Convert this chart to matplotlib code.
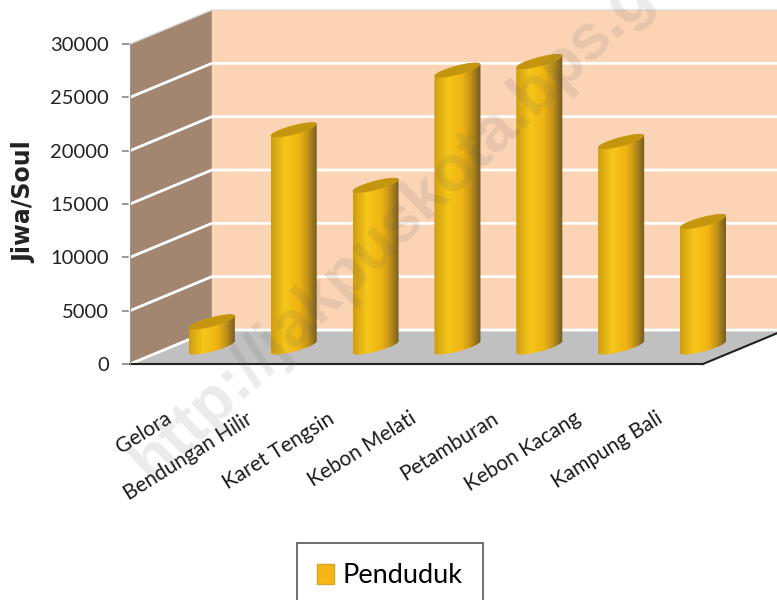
import numpy as np
import matplotlib
matplotlib.use("Agg")
import matplotlib.pyplot as plt
from matplotlib.colors import LinearSegmentedColormap
from matplotlib.patches import Patch, Polygon
from matplotlib.transforms import ScaledTranslation

categories = ["Gelora", "Bendungan Hilir", "Karet Tengsin", "Kebon Melati",
              "Petamburan", "Kebon Kacang", "Kampung Bali"]
penduduk = [2350, 20350, 15150, 25950, 26750, 19250, 11750]
y_ticks = [0, 5000, 10000, 15000, 20000, 25000, 30000]

# Oblique depth of the fake 3D box, in data units
depth_x = 1.0
depth_y = 3187
# Cylinder footprint on the floor
radius_w = 0.175
radius_d = 0.22

fig = plt.figure(figsize=(7.77, 6.0), dpi=100)
ax = fig.add_axes([130 / 777, 1 - 364 / 600, 573 / 777, 320 / 600])
plt.rcParams['font.family'] = ['Lato', 'DejaVu Sans']


def ellipse_points(cx, cy, t):
    return (cx + radius_w * np.cos(t) + radius_d * depth_x * np.sin(t),
            cy + radius_d * depth_y * np.sin(t))


n = len(categories)
y_max = y_ticks[-1]

# Walls and floor
ax.add_patch(Polygon([(0, 0), (depth_x, depth_y), (depth_x, y_max + depth_y), (0, y_max)],
                     color="#a38670", lw=0, zorder=1, clip_on=False))
ax.add_patch(Polygon([(depth_x, depth_y), (n + depth_x, depth_y),
                      (n + depth_x, y_max + depth_y), (depth_x, y_max + depth_y)],
                     color="#fbd4b6", lw=0, zorder=1, clip_on=False))
ax.add_patch(Polygon([(0, 0), (n, 0), (n + depth_x, depth_y), (depth_x, depth_y)],
                     color="#c0c0c0", lw=0, zorder=1, clip_on=False))

# Gridlines run along the side wall and then the back wall
for v in y_ticks:
    col = "#d9d9d9" if v == y_max else "white"
    lw = 1 if v == y_max else 2
    ax.plot([0, depth_x, n + depth_x], [v, v + depth_y, v + depth_y],
            color=col, lw=lw, zorder=2, clip_on=False)

# Floor front edge going back on the right
ax.plot([n, n + depth_x], [0, depth_y], color="#222222", lw=1.5, zorder=2, clip_on=False)

shade = LinearSegmentedColormap.from_list("cyl", [
    (0.0, "#cf9c10"), (0.3, "#f6c61a"), (0.6, "#efb412"), (0.78, "#c49318"), (1.0, "#6e5722")])
gradient = np.linspace(0, 1, 256).reshape(1, -1)

half = np.hypot(radius_w, radius_d * depth_x)
t0 = np.arctan2(radius_d * depth_x, radius_w)
base_y = 0.5 * depth_y

for i, v in enumerate(penduduk):
    cx = i + 0.5 + 0.5 * depth_x
    # side of the cylinder: lower half of the base, upper part closes on the top ellipse
    t_low = np.linspace(t0 + np.pi, t0 + 2 * np.pi, 60)
    t_up = np.linspace(t0, t0 + np.pi, 60)
    bx, by = ellipse_points(cx, base_y, t_low)
    tx, ty = ellipse_points(cx, base_y + v, t_up)
    outline = np.column_stack([np.r_[bx, tx], np.r_[by, ty]])
    clip = Polygon(outline, transform=ax.transData)
    im = ax.imshow(gradient, cmap=shade, aspect="auto", zorder=3,
                   extent=(cx - half, cx + half, 0, y_max))
    im.set_clip_box(fig.bbox)
    im.set_clip_path(clip)
    t = np.linspace(0, 2 * np.pi, 120)
    cx_top, cy_top = ellipse_points(cx, base_y + v, t)
    ax.add_patch(Polygon(np.column_stack([cx_top, cy_top]), color="#c4960f", lw=0,
                         zorder=4, clip_on=False))

ax.set_xlim(0, n)
ax.set_ylim(0, y_max)
ax.set_xticks(np.arange(n) + 0.5)
ax.set_xticklabels(categories, rotation=32, ha="right", va="top", rotation_mode="anchor",
                   fontsize=15, color="#1a1a1a", family=["Lato", "DejaVu Sans"])
ax.tick_params(axis="x", length=0, pad=32)
# labels end a little left of the bar slot
shift = ScaledTranslation(-7 / 100, 0, fig.dpi_scale_trans)
for lab in ax.get_xticklabels():
    lab.set_transform(lab.get_transform() + shift)
ax.set_yticks(y_ticks)
ax.set_yticklabels([str(v) for v in y_ticks], fontsize=14.5, color="#222222",
                   family=["Lato", "DejaVu Sans"])
ax.tick_params(axis="y", length=6, width=1.2, color="#888888", pad=9)
for s in ["top", "right"]:
    ax.spines[s].set_visible(False)
ax.spines["left"].set_color("#999999")
ax.spines["left"].set_zorder(5)
ax.spines["bottom"].set_color("#222222")
ax.spines["bottom"].set_linewidth(1.5)

fig.text(24 / 777, 1 - 202 / 600, "Jiwa/Soul", rotation=90, ha="center", va="center",
         fontsize=17, fontweight="bold", color="#222222", family="DejaVu Sans")

leg = fig.legend(handles=[Patch(facecolor="#f5b616", edgecolor="#d9a520", label="Penduduk")],
                 loc="upper left", bbox_to_anchor=(297 / 777, 1 - 543 / 600), borderaxespad=0,
                 prop={"family": "Lato", "size": 19.5}, fancybox=False,
                 framealpha=1, edgecolor="#555555", borderpad=0.75, handlelength=0.62,
                 handleheight=0.8, handletextpad=0.3)
leg.get_frame().set_linewidth(1.2)

# Watermark across the whole picture, running off the top edge as in the original
fig.text(152 / 777, 1 - 484 / 600, "http://jakpuskota.bps.g", rotation=44,
         rotation_mode="anchor", ha="left", va="baseline", fontsize=46, fontweight="bold",
         color="#606060", alpha=0.13, family="Liberation Sans", zorder=10)

fig.savefig("out.png", dpi=100)
